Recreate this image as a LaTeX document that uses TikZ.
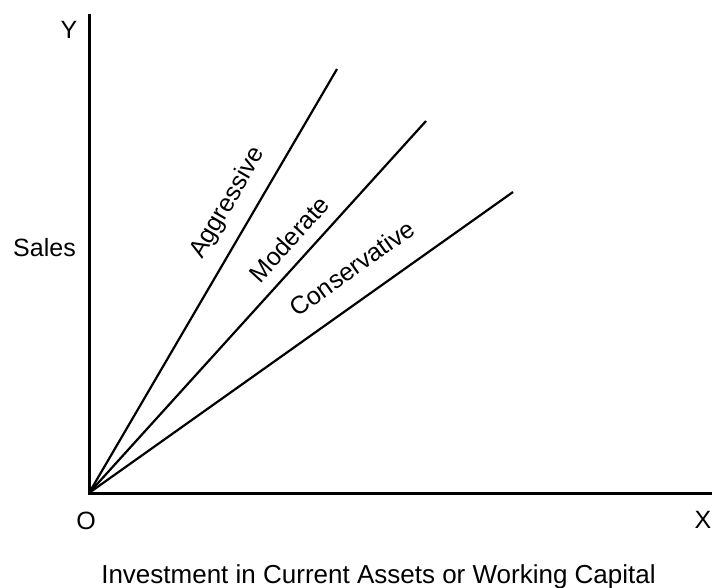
\documentclass[tikz,border=0pt]{standalone}
\usepackage{fontspec}
\setmainfont{Liberation Sans}
\begin{document}
\begin{tikzpicture}[x=1pt,y=-1pt,
  axis/.style={line width=3pt},
  ray/.style={line width=2.2pt},
  lbl/.style={inner sep=0pt,font=\fontsize{25}{30}\selectfont},
]
\useasboundingbox (0,0) rectangle (712,587);
\coordinate (o) at (89,493);
\coordinate (ytop) at (89,14);
\coordinate (xend) at (712,493);
\coordinate (agg) at (337,69);
\coordinate (mod) at (426,121);
\coordinate (con) at (513,192);
\draw[axis] (ytop) -- (o.center) -- (xend);
\draw[ray] (o) -- (agg);
\draw[ray] (o) -- (mod);
\draw[ray] (o) -- (con);
\node[lbl] (ylab) at (69,30) {Y};
\node[lbl] (xlab) at (703,520) {X};
\node[lbl] (olab) at (86,521) {O};
\node[lbl] (sales) at (44.5,248) {Sales};
\node[lbl,rotate=59.7] (laga) at (228,203) {Aggressive};
\node[lbl,rotate=47.8] (lmod) at (289,239) {Moderate};
\node[lbl,rotate=35.4] (lcon) at (352,268) {Conservative};
\node[lbl,font=\fontsize{26}{30}\selectfont,anchor=base] (xtitle) at (378.5,583) {Investment in Current Assets or Working Capital};
\end{tikzpicture}
\end{document}
